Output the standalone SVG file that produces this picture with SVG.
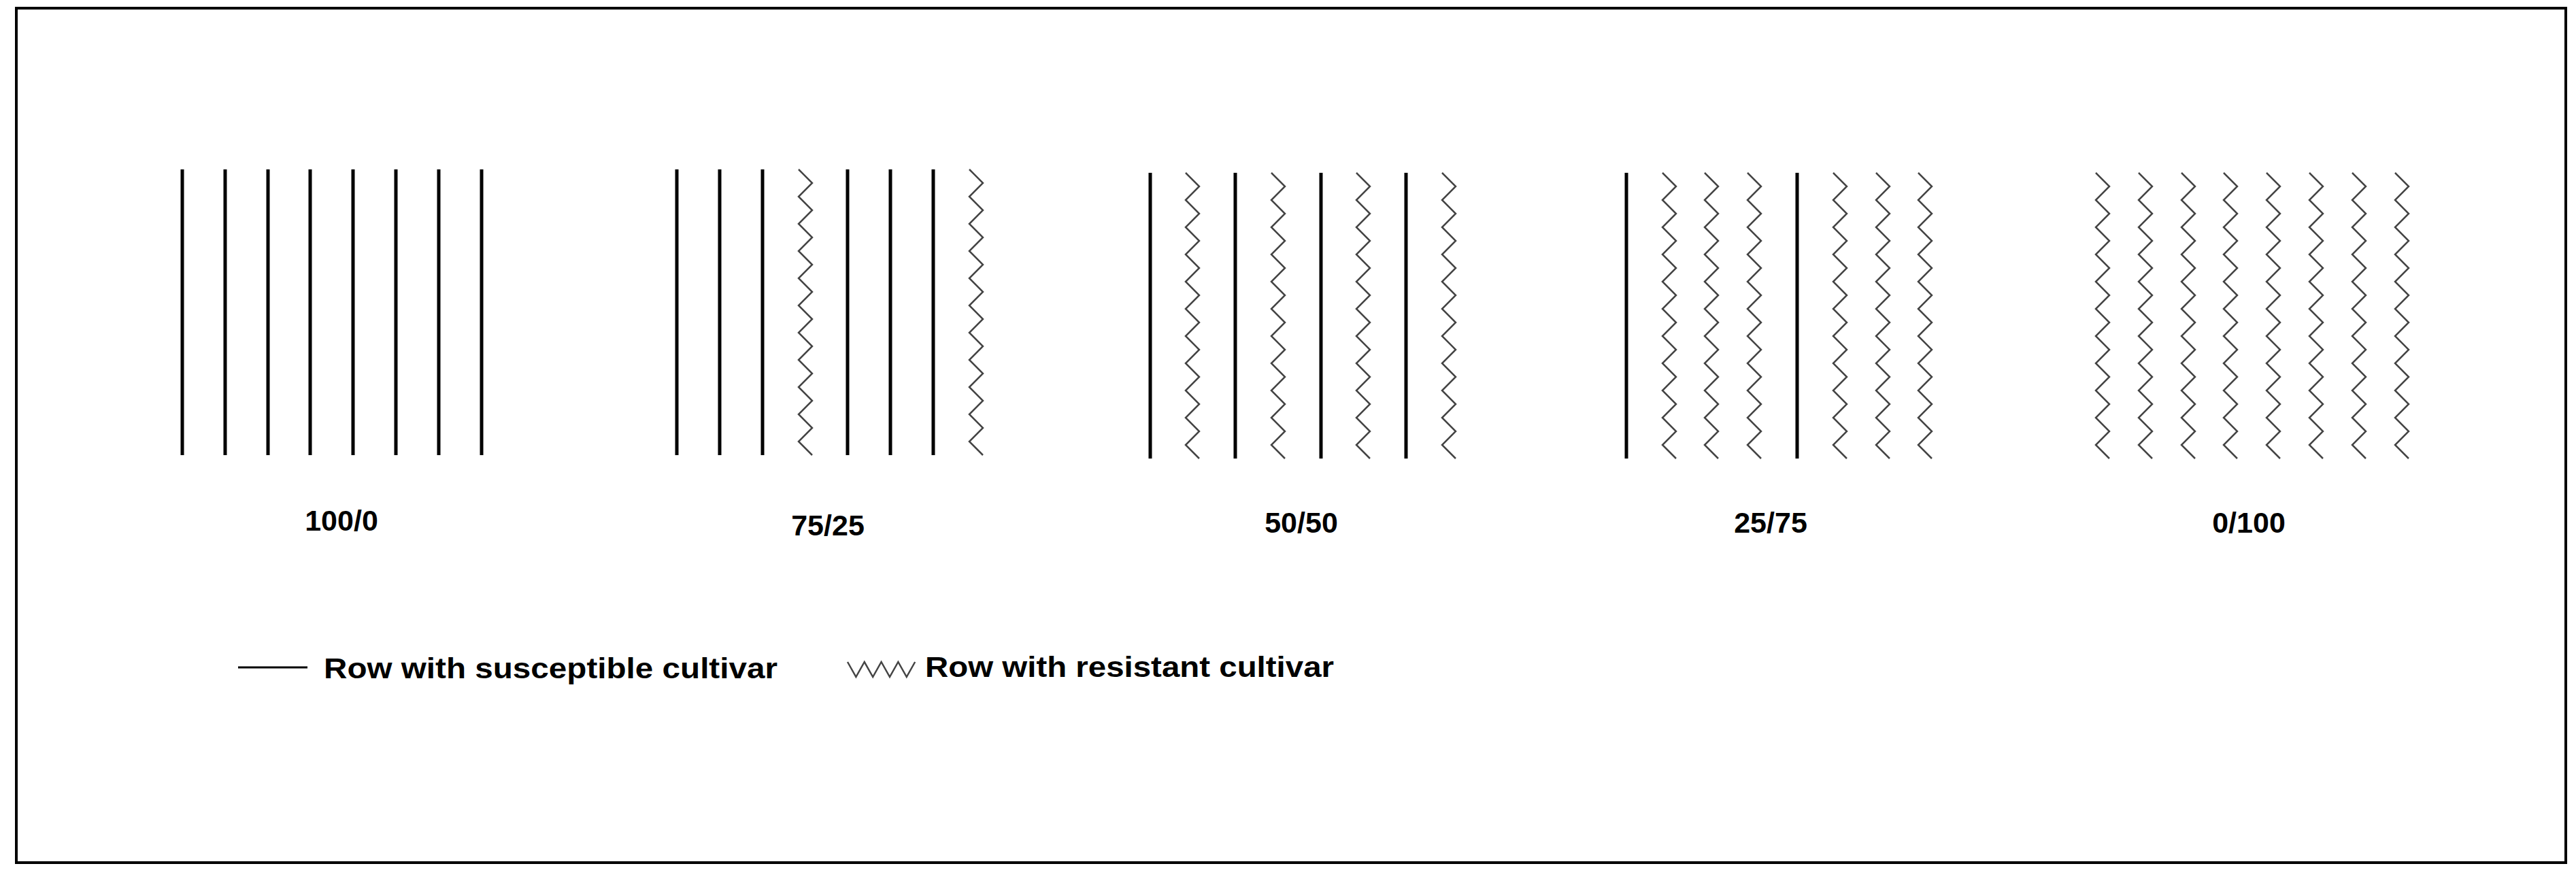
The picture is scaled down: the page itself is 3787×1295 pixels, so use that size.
<svg xmlns="http://www.w3.org/2000/svg" xmlns:xlink="http://www.w3.org/1999/xlink" width="3787" height="1295" viewBox="0 0 3787 1295">
<style>
.s{stroke:#000;stroke-width:5;fill:none}
.z{stroke:#444;stroke-width:2.5;fill:none}
.t{font-family:"Liberation Sans",Arial,sans-serif;font-weight:bold;font-size:43px;fill:#000}
</style>
<defs>
<path id="sl" class="s" d="M0,0 V420"/>
<path id="zz" class="z" d="M-10,0 l20,20 l-20,20 l20,20 l-20,20 l20,20 l-20,20 l20,20 l-20,20 l20,20 l-20,20 l20,20 l-20,20 l20,20 l-20,20 l20,20 l-20,20 l20,20 l-20,20 l20,20 l-20,20 l20,20"/>
</defs>
<rect x="24" y="12" width="3748" height="1256" fill="#fff" stroke="#000" stroke-width="4"/>
<g id="g100_0">
<use href="#sl" x="268" y="249"/><use href="#sl" x="331" y="249"/><use href="#sl" x="394" y="249"/><use href="#sl" x="456" y="249"/>
<use href="#sl" x="519" y="249"/><use href="#sl" x="582" y="249"/><use href="#sl" x="645" y="249"/><use href="#sl" x="708" y="249"/>
<text class="t" x="502" y="780" text-anchor="middle">100/0</text>
</g>
<g id="g75_25">
<use href="#sl" x="995" y="249"/><use href="#sl" x="1058" y="249"/><use href="#sl" x="1121" y="249"/><use href="#zz" x="1184" y="249"/>
<use href="#sl" x="1246" y="249"/><use href="#sl" x="1309" y="249"/><use href="#sl" x="1372" y="249"/><use href="#zz" x="1435" y="249"/>
<text class="t" x="1217" y="787" text-anchor="middle">75/25</text>
</g>
<g id="g50_50">
<use href="#sl" x="1691" y="254"/><use href="#zz" x="1753" y="254"/><use href="#sl" x="1816" y="254"/><use href="#zz" x="1879" y="254"/>
<use href="#sl" x="1942" y="254"/><use href="#zz" x="2004" y="254"/><use href="#sl" x="2067" y="254"/><use href="#zz" x="2130" y="254"/>
<text class="t" x="1913" y="783" text-anchor="middle">50/50</text>
</g>
<g id="g25_75">
<use href="#sl" x="2391" y="254"/><use href="#zz" x="2454" y="254"/><use href="#zz" x="2516" y="254"/><use href="#zz" x="2579" y="254"/>
<use href="#sl" x="2642" y="254"/><use href="#zz" x="2705" y="254"/><use href="#zz" x="2768" y="254"/><use href="#zz" x="2830" y="254"/>
<text class="t" x="2603" y="783" text-anchor="middle">25/75</text>
</g>
<g id="g0_100">
<use href="#zz" x="3091" y="254"/><use href="#zz" x="3154" y="254"/><use href="#zz" x="3217" y="254"/><use href="#zz" x="3279" y="254"/>
<use href="#zz" x="3342" y="254"/><use href="#zz" x="3405" y="254"/><use href="#zz" x="3468" y="254"/><use href="#zz" x="3531" y="254"/>
<text class="t" x="3306" y="783" text-anchor="middle">0/100</text>
</g>
<g id="legend">
<path d="M350,981 H452" stroke="#000" stroke-width="3"/>
<text class="t" x="476" y="997" textLength="667" lengthAdjust="spacingAndGlyphs">Row with susceptible cultivar</text>
<path class="z" d="M1246,973 l12.4,22 l12.4,-22 l12.4,22 l12.4,-22 l12.4,22 l12.4,-22 l12.4,22 l12.4,-22"/>
<text class="t" x="1360" y="995" textLength="601" lengthAdjust="spacingAndGlyphs">Row with resistant cultivar</text>
</g>
</svg>
